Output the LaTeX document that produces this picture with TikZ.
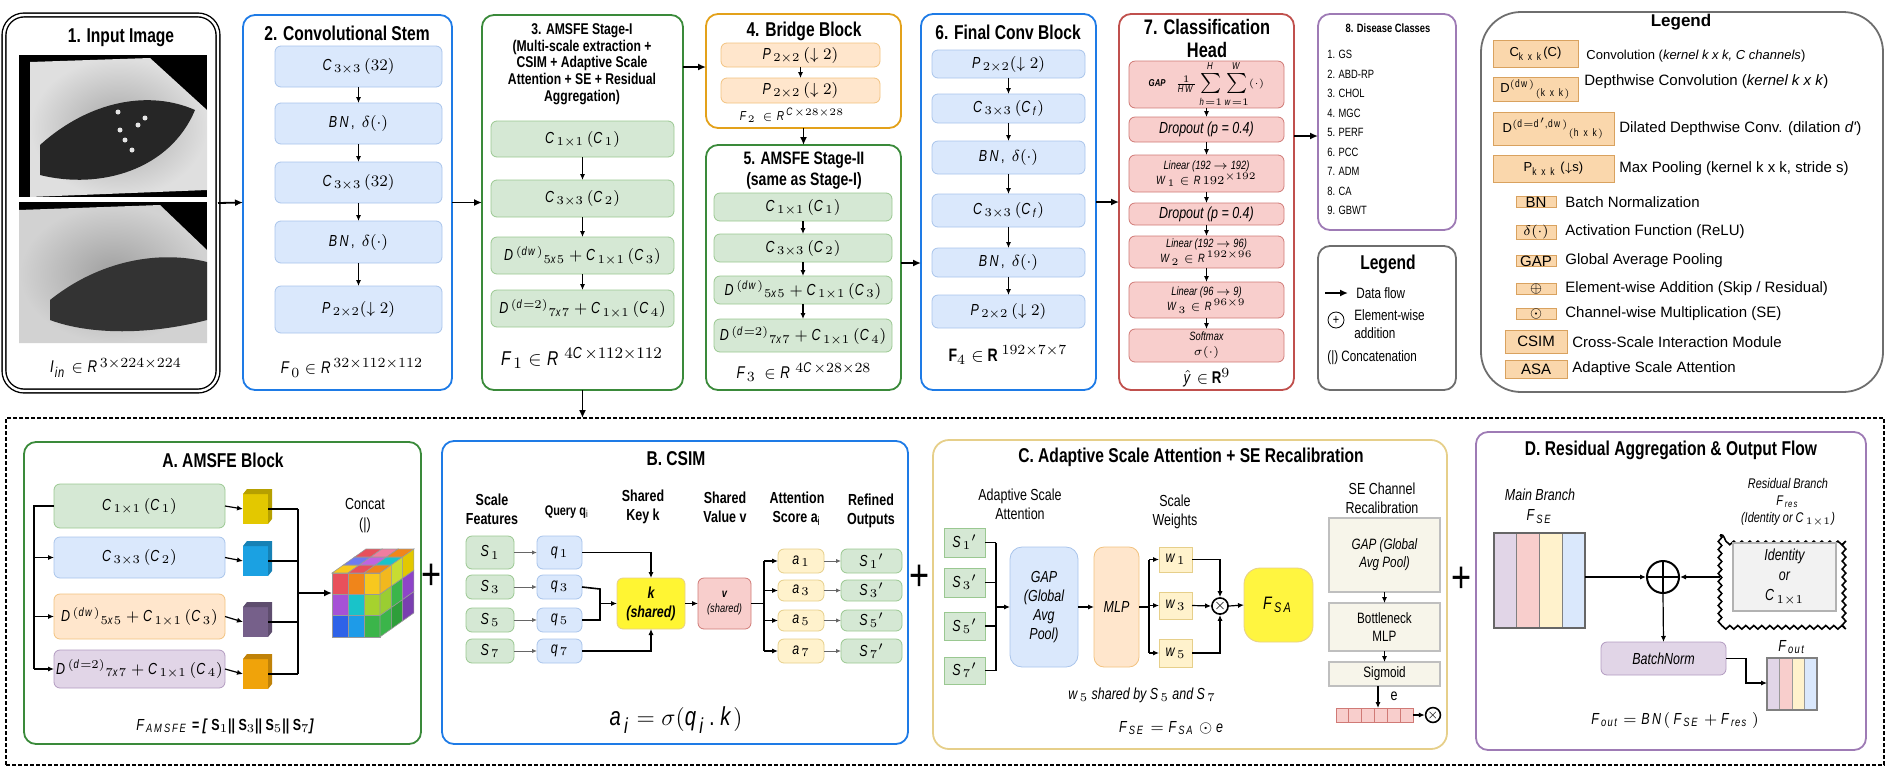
\documentclass[tikz,border=0pt]{standalone}
\usepackage{fontspec}
\setmainfont{Liberation Sans}[FakeStretch=0.78]
\newfontfamily\legfont{Liberation Sans}
\usepackage[italic]{mathastext}
\usetikzlibrary{arrows.meta,decorations.pathmorphing}
\definecolor{cBluF}{HTML}{DAE8FC}\definecolor{cBluD}{HTML}{A9C4EB}
\definecolor{cGrnF}{HTML}{D5E8D4}\definecolor{cGrnD}{HTML}{9AC891}
\definecolor{cOrgF}{HTML}{FFE6CC}\definecolor{cOrgD}{HTML}{F2C27F}
\definecolor{cRedF}{HTML}{F8CECC}\definecolor{cRedD}{HTML}{D07A76}
\definecolor{cPurF}{HTML}{E1D5E7}\definecolor{cPurD}{HTML}{B29BC0}
\definecolor{cYelF}{HTML}{FFF2CC}\definecolor{cYelD}{HTML}{E6CF8A}
\definecolor{cLegF}{HTML}{FAD7AC}\definecolor{cLegD}{HTML}{D9A25F}
\definecolor{cSeF}{HTML}{F7F5EA}
\definecolor{pBlue}{HTML}{1E7BE6}\definecolor{pGreen}{HTML}{3A8A3A}
\definecolor{pOrange}{HTML}{E3A11A}\definecolor{pRed}{HTML}{C0504D}
\definecolor{pPurple}{HTML}{9E7BB5}\definecolor{pGray}{HTML}{6E6E6E}
\definecolor{pTan}{HTML}{E6CF8A}
% box from corner (x1,y1) to (x2,y2) in pixel units
\newcommand\bx[7][]{\node[inner sep=0pt,outer sep=0pt,align=center,#1,
  minimum width={(#4-#2)*0.5pt},minimum height={(#5-#3)*0.5pt}]
  (#6) at ({(#2+#4)/2},{(#3+#5)/2}) {#7};}
\tikzset{
  panel/.style={draw=#1,line width=0.9pt,rounded corners=6pt},
  ttl/.style={font=\fontsize{10}{12}\selectfont\bfseries,align=center},
  sttl/.style={font=\fontsize{7}{8.4}\selectfont\bfseries,align=center},
  lbl/.style={font=\fontsize{8.5}{10}\selectfont\bfseries\itshape},
  txt/.style={font=\fontsize{7}{8.4}\selectfont,align=center},
  bbox/.style={fill=cBluF,draw=cBluD,rounded corners=3pt,font=\fontsize{8}{9.6}\selectfont\itshape},
  gbox/.style={bbox,fill=cGrnF,draw=cGrnD},
  obox/.style={bbox,fill=cOrgF,draw=cOrgD},
  rbox/.style={bbox,fill=cRedF,draw=cRedD},
  pbox/.style={bbox,fill=cPurF,draw=cPurD},
  ybox/.style={bbox,fill=cYelF,draw=cYelD},
  sbox/.style={fill=cSeF,draw=black!25,line width=0.8pt,font=\fontsize{7.5}{9}\selectfont},
  lbox/.style={fill=cLegF,draw=cLegD,font=\legfont\fontsize{6.5}{7.8}\selectfont},
  ltxt/.style={anchor=west,inner sep=0pt,font=\legfont\fontsize{6.5}{7.8}\selectfont},
  arr/.style={-{Latex[length=4pt,width=3.5pt]},line width=0.9pt},
  arrs/.style={-{Latex[length=3pt,width=2.6pt]},line width=0.6pt},
  arrg/.style={-{Latex[length=2.5pt,width=2.2pt]},line width=0.5pt,black!60},
}
\begin{document}
\begin{tikzpicture}[x=0.5pt,y=-0.5pt]
\useasboundingbox (0,0) rectangle (1892,772);
% ---- 1. input image
\bx[draw,double,double distance=1.2pt,line width=0.7pt,rounded corners=10pt]{4}{15}{218}{391}{p1}{}
\node[ttl] (t1) at (121,38) {1. Input Image};
\bx[fill=black]{19}{55}{207}{197}{img1}{}
\shade[inner color=gray!70,outer color=gray!25] (30,62) -- (150,58) -- (207,110) -- (207,190) -- (30,197) -- cycle;
\fill[black!85] (40,145) .. controls (90,100) and (150,90) .. (195,110) .. controls (170,170) and (100,190) .. (40,175) -- cycle;
\foreach \px/\py in {120/130,125/140,118/112,138/125,145/118,132/150}{\fill[white!80!gray] (\px,\py) circle (2.5);}
\bx[fill=black]{19}{202}{207}{343}{img2}{}
\shade[inner color=gray!75,outer color=gray!35] (19,210) -- (160,205) -- (207,250) -- (207,343) -- (19,343) -- cycle;
\fill[black!80] (50,300) .. controls (100,260) and (160,250) .. (207,262) -- (207,320) .. controls (150,335) and (90,335) .. (50,320) -- cycle;
\node[lbl] (l1) at (116,368) {$I_{in}\in R^{3\times224\times224}$};
% ---- 2. stem
\bx[panel=pBlue]{243}{15}{452}{390}{p2}{}
\node[ttl] at (347,33) {2. Convolutional Stem};
\bx[bbox]{275}{46}{442}{87}{s1}{$C_{3\times3}\,(32)$}
\bx[bbox]{275}{103}{442}{144}{s2}{$BN,\ \delta(\cdot)$}
\bx[bbox]{275}{162}{442}{203}{s3}{$C_{3\times3}\,(32)$}
\bx[bbox]{275}{221}{442}{263}{s4}{$BN,\ \delta(\cdot)$}
\bx[bbox]{275}{286}{442}{333}{s5}{$P_{2\times2}(\downarrow2)$}
\foreach \a/\b in {s1/s2,s2/s3,s3/s4,s4/s5}{\draw[arrs] (\a.south) -- (\b.north);}
\node[lbl] at (352,368) {$F_0\in R^{32\times112\times112}$};
% ---- 3. AMSFE stage I
\bx[panel=pGreen]{482}{15}{683}{390}{p3}{}
\node[sttl,font=\fontsize{7.8}{8.4}\selectfont\bfseries] at (582,64) {3. AMSFE Stage-I\\(Multi-scale extraction +\\CSIM + Adaptive Scale\\Attention + SE + Residual\\Aggregation)};
\bx[gbox]{491}{121}{674}{157}{m1}{$C_{1\times1}\,(C_1)$}
\bx[gbox]{491}{180}{674}{217}{m2}{$C_{3\times3}\,(C_2)$}
\bx[gbox]{491}{237}{674}{274}{m3}{$D^{(dw)}{}_{5x5}+C_{1\times1}\,(C_3)$}
\bx[gbox]{491}{290}{674}{327}{m4}{$D^{(d=2)}{}_{7x7}+C_{1\times1}\,(C_4)$}
\foreach \a/\b in {m1/m2,m2/m3,m3/m4}{\draw[arrs] (\a.south) -- (\b.north);}
\node[lbl,font=\fontsize{10}{12}\selectfont\bfseries\itshape] at (582,358) {$F_1\in R^{\,4C\times112\times112}$};
% ---- 4. bridge
\bx[panel=pOrange]{706}{14}{901}{128}{p4}{}
\node[ttl] at (804,31) {4. Bridge Block};
\bx[obox]{721}{43}{880}{67}{b1}{$P_{2\times2}\,(\downarrow2)$}
\bx[obox]{721}{78}{880}{103}{b2}{$P_{2\times2}\,(\downarrow2)$}
\draw[arrs] (b1.south) -- (b2.north);
\node[lbl,font=\fontsize{6.5}{8}\selectfont\bfseries\itshape] at (792,115) {$F_2\ \in R^{C\times28\times28}$};
% ---- 5. AMSFE stage II
\bx[panel=pGreen]{706}{145}{901}{390}{p5}{}
\node[ttl,font=\fontsize{9}{10.5}\selectfont\bfseries] at (804,171) {5. AMSFE Stage-II\\(same as Stage-I)};
\bx[gbox]{714}{193}{892}{221}{n1}{$C_{1\times1}\,(C_1)$}
\bx[gbox]{714}{234}{892}{262}{n2}{$C_{3\times3}\,(C_2)$}
\bx[gbox]{714}{276}{892}{304}{n3}{$D^{(dw)}{}_{5x5}+C_{1\times1}\,(C_3)$}
\bx[gbox]{714}{319}{892}{352}{n4}{$D^{(d=2)}{}_{7x7}+C_{1\times1}\,(C_4)$}
\foreach \a/\b in {n1/n2,n2/n3,n3/n4}{\draw[arrs] (\a.south) -- (\b.north);}
\node[lbl] at (804,372) {$F_3\ \in R^{\,4C\times28\times28}$};
% ---- 6. final conv
\bx[panel=pBlue]{921}{14}{1096}{390}{p6}{}
\node[ttl] at (1008,32) {6. Final Conv Block};
\bx[bbox]{932}{50}{1085}{78}{f1}{$P_{2\times2}(\downarrow2)$}
\bx[bbox]{932}{94}{1085}{123}{f2}{$C_{3\times3}\,(C_f)$}
\bx[bbox]{932}{141}{1085}{174}{f3}{$BN,\ \delta(\cdot)$}
\bx[bbox]{932}{194}{1085}{227}{f4}{$C_{3\times3}\,(C_f)$}
\bx[bbox]{932}{248}{1085}{277}{f5}{$BN,\ \delta(\cdot)$}
\bx[bbox]{932}{295}{1085}{328}{f6}{$P_{2\times2}\,(\downarrow2)$}
\foreach \a/\b in {f1/f2,f2/f3,f3/f4,f4/f5,f5/f6}{\draw[arrs] (\a.south) -- (\b.north);}
\node[font=\fontsize{9}{11}\selectfont\bfseries] at (1008,355) {F$_4\in$ R $^{192\times7\times7}$};
% ---- 7. classification head
\bx[panel=pRed]{1119}{14}{1294}{390}{p7}{}
\node[ttl,font=\fontsize{10.5}{11.5}\selectfont\bfseries] at (1207,38) {7. Classification\\Head};
\bx[rbox,font=\fontsize{5}{6}\selectfont]{1129}{63}{1284}{106}{r1}{\textbf{\textit{GAP}}\quad $\frac{1}{HW}\sum\limits_{h=1}^{H}\sum\limits_{w=1}^{W}(\cdot)$}
\bx[rbox]{1129}{117}{1284}{142}{r2}{Dropout (p = 0.4)}
\bx[rbox,font=\fontsize{6}{7.5}\selectfont\itshape]{1129}{155}{1284}{192}{r3}{Linear (192 $\to$ 192)\\$W_1\in R192^{\times192}$}
\bx[rbox]{1129}{203}{1284}{225}{r4}{Dropout (p = 0.4)}
\bx[rbox,font=\fontsize{6}{7.5}\selectfont\itshape]{1129}{236}{1284}{268}{r5}{Linear (192 $\to$ 96)\\$W_2\in R^{192\times96}$}
\bx[rbox,font=\fontsize{6}{7.5}\selectfont\itshape]{1129}{282}{1284}{318}{r6}{Linear (96 $\to$ 9)\\$W_3\in R^{96\times9}$}
\bx[rbox,font=\fontsize{6}{7.5}\selectfont\itshape]{1129}{329}{1284}{362}{r7}{Softmax\\$\sigma(\cdot)$}
\foreach \a/\b in {r1/r2,r2/r3,r3/r4,r4/r5,r5/r6,r6/r7}{\draw[arrs] (\a.south) -- (\b.north);}
\node[font=\fontsize{8.5}{10}\selectfont\bfseries] at (1207,378) {$\hat{y}\in$ R$^9$};
% ---- 8. classes
\bx[panel=pPurple]{1318}{14}{1456}{230}{p8}{}
\node[sttl,font=\fontsize{6}{7}\selectfont\bfseries] at (1388,28) {8. Disease Classes};
\foreach \n [count=\i] in {GS,ABD-RP,CHOL,MGC,PERF,PCC,ADM,CA,GBWT}{
  \node[anchor=west,inner sep=0pt,font=\fontsize{6}{7}\selectfont] (dc\i) at (1327,{35+\i*19.5}) {\i. \n};}
% ---- small legend
\bx[panel=pGray]{1318}{246}{1456}{390}{p9}{}
\node[ttl] at (1388,264) {Legend};
\coordinate (lg0) at (1325,293);
\coordinate (lg1) at (1348,293);
\draw[arr] (lg0) -- (lg1);
\node[ltxt,font=\fontsize{7.5}{9}\selectfont] at (1356,293) {Data flow};
\node[circle,draw,inner sep=0pt,minimum size=8pt,font=\fontsize{7}{7}\selectfont] (lgp) at (1336,320) {+};
\node[ltxt,font=\fontsize{7.5}{9}\selectfont,align=left] at (1354,324) {Element-wise\\addition};
\node[ltxt,font=\fontsize{7.5}{9}\selectfont] at (1327,358) {(|) Concatenation};
% ---- big legend
\bx[draw=pGray,line width=0.9pt,rounded corners=20pt]{1481}{12}{1883}{392}{p10}{}
\node[ttl,font=\legfont\fontsize{8.5}{10}\selectfont\bfseries] at (1681,22) {Legend};
\bx[lbox]{1493}{40}{1578}{67}{g1}{C$_{\mathrm{k\ x\ k}}$(C)}
\node[ltxt] at (1586,56) {Convolution (\textit{kernel k x k, C channels})};
\bx[lbox]{1493}{77}{1578}{101}{g2}{D$^{\mathrm{(dw)}}{}_{\mathrm{(k\ x\ k)}}$}
\node[ltxt,font=\legfont\fontsize{7.5}{9}\selectfont] at (1584,82) {Depthwise Convolution (\textit{kernel k x k})};
\bx[lbox]{1493}{112}{1614}{145}{g3}{D$^{\mathrm{(d=d',dw)}}{}_{\mathrm{(h\ x\ k)}}$}
\node[ltxt,font=\legfont\fontsize{7.5}{9}\selectfont] at (1619,129) {Dilated Depthwise Conv. (dilation \textit{d'})};
\bx[lbox]{1493}{155}{1614}{182}{g4}{P$_{\mathrm{k\ x\ k}}$ ($\downarrow$s)}
\node[ltxt,font=\legfont\fontsize{7.5}{9}\selectfont] at (1619,169) {Max Pooling (kernel k x k, stride s)};
\foreach \t/\d/\y [count=\i from 5] in {BN/{Batch Normalization}/202,$\delta(\cdot)$/{Activation Function (ReLU)}/232,GAP/{Global Average Pooling}/261,$\oplus$/{Element-wise Addition (Skip / Residual)}/289,$\odot$/{Channel-wise Multiplication (SE)}/314}{
  \bx[lbox,font=\legfont\fontsize{7.5}{9}\selectfont]{1516}{\y-9.5}{1556}{\y+9.5}{g\i}{\t}
  \node[ltxt,font=\legfont\fontsize{7.5}{9}\selectfont] at (1565,\y) {\d};}
\bx[lbox,font=\legfont\fontsize{7.5}{9}\selectfont]{1505}{330}{1567}{353}{g10}{CSIM}
\node[ltxt,font=\legfont\fontsize{7.5}{9}\selectfont] at (1572,342) {Cross-Scale Interaction Module};
\bx[lbox,font=\legfont\fontsize{7.5}{9}\selectfont]{1505}{360}{1567}{378}{g11}{ASA}
\node[ltxt,font=\legfont\fontsize{7.5}{9}\selectfont] at (1572,369) {Adaptive Scale Attention};
% ---- top flow
\draw[arr] (p1.east) -- (p2.west);
\draw[arr] (p2.east) -- (p3.west);
\draw[arr] (p3.east |- 0,67) -- (p4.west |- 0,67);
\draw[arr] (p4.south) -- (p5.north);
\draw[arr] (p5.east |- 0,263) -- (p6.west |- 0,263);
\draw[arr] (p6.east) -- (p7.west);
\draw[arr] (p7.east |- 0,136) -- (p8.west |- 0,136);
% ---- bottom frame
\bx[draw,line width=1.1pt,dash pattern=on 2pt off 1pt]{6}{418}{1884}{765}{dash}{}
\draw[arr] (p3.south) -- (p3.south |- dash.north);
% ---- A. AMSFE block
\bx[panel=pGreen]{24}{442}{421}{744}{pA}{}
\node[ttl] at (223,460) {A. AMSFE Block};
\bx[gbox]{54}{484}{225}{528}{a1}{$C_{1\times1}\,(C_1)$}
\bx[bbox]{54}{537}{225}{578}{a2}{$C_{3\times3}\,(C_2)$}
\bx[obox]{54}{594}{225}{639}{a3}{$D^{(dw)}{}_{5x5}+C_{1\times1}\,(C_3)$}
\bx[pbox]{54}{650}{225}{688}{a4}{$D^{(d=2)}{}_{7x7}+C_{1\times1}\,(C_4)$}
\foreach \y/\c [count=\i] in {494/E3C800,546/1BA1E2,607/76608A,659/F0A30A}{
  \definecolor{cc}{HTML}{\c}
  \bx[fill=cc]{243}{\y}{268}{\y+30}{cb\i}{}
  \fill[cc!80!black] (cb\i.north west) -- ++(4,-5) -- ++(25,0) -- ++(0,30) -- (cb\i.south east) -- (cb\i.north east) -- cycle;}
\coordinate (busL) at (34,506);
\draw[line width=0.9pt] (a1.west) -- (busL) -- (busL |- a4.west);
\foreach \i in {2,3,4}{\draw[arrs] (busL |- a\i.west) -- (a\i.west);}
\foreach \i in {1,2,3,4}{\draw[arrs] (a\i.east) -- (cb\i.west);}
\coordinate (busR) at (298,506);
\foreach \i in {1,2,3,4}{\draw[line width=0.9pt] (cb\i.east) -- (busR |- cb\i.east);}
\draw[line width=0.9pt] (busR |- cb1.east) -- (busR |- cb4.east);
\bx{332}{549}{412}{637}{cube}{}
\draw[arr] (busR |- cube.west) -- (cube.west);
% rubik cube faces
\foreach \r [count=\j from 0] in {{E8505B,F0851A,F7C81E},{A651D6,19C3C9,A6D22E},{2E62E8,1E9BE8,3BB54A}}{
  \foreach \c [count=\i from 0] in \r {\definecolor{fc}{HTML}{\c}
    \filldraw[fill=fc,draw=black!40,line width=0.3pt] ({332+\i*16},{573+\j*21.3}) rectangle ++(16,21.3);}}
\foreach \r [count=\j from 0] in {{F7C81E,E8505B,F0851A},{6E7BF0,C064E0,19C3C9},{E8505B,F07DA0,F0851A}}{
  \foreach \c [count=\i from 0] in \r {\definecolor{fc}{HTML}{\c}
    \filldraw[fill=fc,draw=black!40,line width=0.3pt] ({332+\i*16+\j*11.3},{573-\j*8}) -- ++(16,0) -- ++(11.3,-8) -- ++(-16,0) -- cycle;}}
\foreach \r [count=\j from 0] in {{F2B81E,C8DC32,E3C800},{9ACD32,3BB54A,8E44C8},{3BB54A,2E9E3A,7A3FB0}}{
  \foreach \c [count=\i from 0] in \r {\definecolor{fc}{HTML}{\c}
    \filldraw[fill=fc,draw=black!40,line width=0.3pt] ({380+\i*11.3},{573+\j*21.3-\i*8}) -- ++(11.3,-8) -- ++(0,21.3) -- ++(-11.3,8) -- cycle;}}
\node[txt,font=\fontsize{8}{10}\selectfont] (cc) at (365,516) {Concat\\(|)};
\node[font=\fontsize{8}{10}\selectfont\bfseries\itshape] at (225,726) {$F_{AMSFE}$ = [ \textup{S$_1$|| S$_3$|| S$_5$|| S$_7$}]};
\node[font=\fontsize{22}{22}\selectfont] at (432,577) {+};
% ---- B. CSIM
\bx[panel=pBlue]{442}{441}{908}{744}{pB}{}
\node[ttl] at (676,459) {B. CSIM};
\node[sttl,font=\fontsize{8}{9.6}\selectfont\bfseries] at (492,509) {Scale\\Features};
\node[sttl] at (567,512) {Query q$_\mathrm{i}$};
\node[sttl,font=\fontsize{8}{9.6}\selectfont\bfseries] at (643,507) {Shared\\Key k};
\node[sttl,font=\fontsize{8}{9.6}\selectfont\bfseries] at (725,507) {Shared\\Value v};
\node[sttl,font=\fontsize{8}{9.6}\selectfont\bfseries] at (797,509) {Attention\\Score a$_\mathrm{i}$};
\node[sttl,font=\fontsize{8}{9.6}\selectfont\bfseries] at (871,511) {Refined\\Outputs};
\foreach \n/\ya/\yb in {1/536/569,3/575/599,5/608/632,7/639/663}{
  \bx[gbox]{466}{\ya}{514}{\yb}{bs\n}{$S_\n$}
  \bx[bbox]{537}{\ya}{582}{\yb}{bq\n}{$q_\n$}
  \draw[arrg] (bs\n.east) -- (bq\n.west);}
\foreach \n/\ya/\yb in {1/549/573,3/580/601,5/610/631,7/639/663}{
  \bx[ybox]{778}{\ya}{824}{\yb}{ba\n}{$a_\n$}
  \bx[gbox]{841}{\ya}{902}{\yb}{bo\n}{$S_\n{}'$}
  \draw[arrg] (ba\n.east) -- (bo\n.west);}
\bx[ybox,fill=yellow!80,draw=cYelD,font=\fontsize{8}{9.6}\selectfont\bfseries\itshape]{617}{578}{685}{629}{key}{k\\(shared)}
\bx[rbox,font=\fontsize{6}{7.5}\selectfont\itshape]{698}{578}{751}{629}{val}{\textbf{v}\\(shared)}
\coordinate (qb) at (600,589);
\draw[arrs] (bq1.east) -| (key.north);
\draw[arrs] (bq7.east) -| (key.south);
\draw[line width=0.8pt] (bq3.east) -- (qb) -- (qb |- bq5.east) -- (bq5.east);
\draw[arrs] (qb |- key.west) -- (key.west);
\draw[arrs] (key.east) -- (val.west);
\coordinate (vb) at (764,561);
\draw[line width=0.8pt] (val.east) -- (vb |- val.east);
\draw[line width=0.8pt] (vb |- ba1.west) -- (vb |- ba7.west);
\foreach \n in {1,3,5,7}{\draw[arrs] (vb |- ba\n.west) -- (ba\n.west);}
\node[font=\fontsize{13}{15}\selectfont\bfseries] at (676,720) {$a_i = \sigma(q_i\,.\,k)$};
\node[font=\fontsize{22}{22}\selectfont] at (920,578) {+};
% ---- C. adaptive scale attention + SE
\bx[draw=pTan,line width=0.9pt,rounded corners=8pt]{933}{440}{1447}{749}{pC}{}
\node[ttl] at (1191,457) {C. Adaptive Scale Attention + SE Recalibration};
\node[txt,font=\fontsize{8}{9.6}\selectfont] at (1020,504) {Adaptive Scale\\Attention};
\foreach \n/\ya/\yb in {1/528/557,3/568/597,5/612/640,7/657/684}{
  \bx[gbox,rounded corners=0pt]{944}{\ya}{985}{\yb}{cs\n}{$S_\n{}'$}}
\coordinate (sb) at (996,542);
\foreach \n in {1,3,5,7}{\draw[line width=0.8pt] (cs\n.east) -- (sb |- cs\n.east);}
\draw[line width=0.8pt] (sb |- cs1.east) -- (sb |- cs7.east);
\bx[bbox,rounded corners=6pt]{1010}{547}{1078}{667}{cgap}{GAP\\(Global\\Avg\\Pool)}
\bx[obox,rounded corners=5pt]{1094}{547}{1139}{667}{cmlp}{MLP}
\draw[arrs] (sb |- cgap.west) -- (cgap.west);
\draw[arrs] (cgap.east) -- (cmlp.west);
\node[txt,font=\fontsize{8}{9.6}\selectfont] at (1175,512) {Scale\\Weights};
\bx[ybox,rounded corners=0pt]{1159}{547}{1192}{572}{w1}{$w_1$}
\bx[ybox,rounded corners=0pt]{1159}{592}{1192}{619}{w3}{$w_3$}
\bx[ybox,rounded corners=0pt]{1159}{639}{1192}{667}{w5}{$w_5$}
\coordinate (wb) at (1149,560);
\draw[line width=0.8pt] (cmlp.east) -- (wb |- cmlp.east);
\draw[line width=0.8pt] (wb |- w1.west) -- (wb |- w5.west);
\foreach \n in {1,3,5}{\draw[arrs] (wb |- w\n.west) -- (w\n.west);}
\node[circle,draw,line width=0.8pt,inner sep=0pt,minimum size=8pt,font=\fontsize{7}{7}\selectfont] (mul) at (1220,606) {$\times$};
\draw[arrs] (w1.east) -| (mul.north);
\draw[arrs] (w5.east) -| (mul.south);
\draw[arrs] (w3.east) -- (mul.west);
\bx[ybox,fill=yellow!75,rounded corners=8pt,font=\fontsize{9}{10}\selectfont\itshape]{1244}{568}{1313}{642}{fsa}{$F_{SA}$}
\draw[arrs] (mul.east) -- (fsa.west);
\node[txt,font=\fontsize{8}{9.6}\selectfont] at (1382,498) {SE Channel\\Recalibration};
\bx[sbox,font=\fontsize{7.5}{9}\selectfont\itshape]{1329}{518}{1440}{592}{se1}{GAP (Global\\Avg Pool)}
\bx[sbox]{1329}{603}{1440}{651}{se2}{Bottleneck\\MLP}
\bx[sbox]{1329}{662}{1440}{686}{se3}{Sigmoid}
\draw[arrs] (se1.south) -- (se2.north);
\draw[arrs] (se2.south) -- (se3.north);
\bx[fill=cRedF,draw=cRedD]{1336}{708}{1413}{722}{bar}{}
\foreach \i in {1,...,5}{\draw[cRedD] ({1336+\i*12.83},708) -- ++(0,14);}
\draw[arrs] (se3.south -| 1378,0) -- (bar.north -| 1378,0);
\node[txt,font=\fontsize{8}{9}\selectfont] at (1394,696) {e};
\node[circle,draw,line width=0.8pt,inner sep=0pt,minimum size=7pt,font=\fontsize{6}{6}\selectfont] (mul2) at (1433,715) {$\times$};
\draw[arrs] (bar.east) -- (mul2.west);
\node[txt,font=\fontsize{8}{9.6}\selectfont\itshape] at (1142,695) {$w_5$ shared by $S_5$ and $S_7$};
\node[font=\fontsize{8}{10}\selectfont\bfseries\itshape] at (1172,728) {$F_{SE}=F_{SA}\odot e$};
\node[font=\fontsize{22}{22}\selectfont] at (1462,580) {+};
% ---- D. residual aggregation
\bx[panel=pPurple]{1476}{432}{1866}{750}{pD}{}
\node[ttl] at (1671,450) {D. Residual Aggregation \& Output Flow};
\node[txt,font=\fontsize{8}{10}\selectfont\itshape] at (1540,506) {Main Branch\\$F_{SE}$};
\foreach \c [count=\i from 0] in {cPurF,cRedF,cYelF,cBluF}{\fill[\c] ({1494+\i*22.75},533) rectangle ++(22.75,95);
  \draw[black!50] ({1494+\i*22.75},533) rectangle ++(22.75,95);}
\bx[draw=black!60,line width=0.8pt]{1494}{533}{1585}{628}{fse}{}
\node[circle,draw,line width=1pt,inner sep=0pt,minimum size=16pt] (plus) at (1663,577) {};
\draw[line width=1pt] (plus.north) -- (plus.south) (plus.west) -- (plus.east);
\node[txt,font=\fontsize{7}{8.6}\selectfont\itshape] at (1788,502) {Residual Branch\\$F_{res}$\\(Identity or $C_{1\times1}$)};
\bx{1720}{535}{1845}{623}{res}{}
\draw[line width=0.8pt,decorate,decoration={snake,amplitude=0.9pt,segment length=4pt}] (res.north west) rectangle (res.south east);
\bx[fill=black!5,draw=black!30,line width=0.8pt,font=\fontsize{8}{10}\selectfont\itshape]{1733}{543}{1836}{611}{resi}{Identity\\or\\$C_{1\times1}$}
\draw[arrs] (fse.east |- plus.west) -- (plus.west);
\draw[arrs] (res.west |- plus.east) -- (plus.east);
\bx[pbox,font=\fontsize{8}{9.6}\selectfont\itshape]{1601}{642}{1726}{675}{bn}{BatchNorm}
\draw[arrs] (plus.south) -- (bn.north);
\foreach \c [count=\i from 0] in {cPurF,cRedF,cYelF,cBluF}{\fill[\c] ({1767+\i*12.5},658) rectangle ++(12.5,52);
  \draw[black!40] ({1767+\i*12.5},658) rectangle ++(12.5,52);}
\bx[draw=black!50,line width=0.6pt]{1767}{658}{1817}{710}{fout}{}
\node[txt,font=\fontsize{8}{9.6}\selectfont\itshape] at (1792,647) {$F_{out}$};
\draw[arrs] (bn.east) -- (1746,0 |- bn.east) |- (fout.west |- 0,683);
\node[font=\fontsize{8}{10}\selectfont\bfseries\itshape] at (1675,720) {$F_{out}=BN(\ F_{SE}+F_{res}\ )$};
\end{tikzpicture}
\end{document}
